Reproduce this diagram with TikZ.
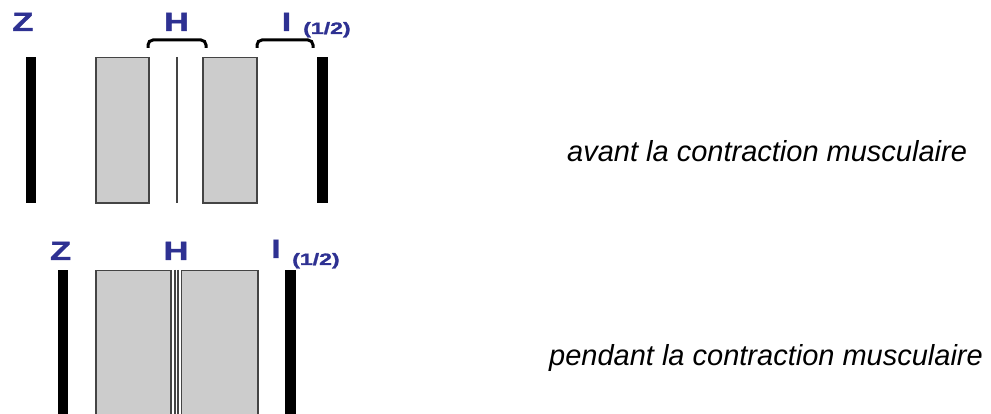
\documentclass[tikz,border=0pt]{standalone}
\usepackage{fontspec}
\setmainfont{Liberation Sans}
\newfontfamily\labfont{Liberation Sans Bold}[FakeBold=1.3]
\definecolor{labblue}{HTML}{2E3192}
\definecolor{filgray}{HTML}{CCCCCC}
\definecolor{edgegray}{HTML}{444444}
\newcommand{\widelab}[2]{\scalebox{#1}[1]{#2}}
\tikzset{
  lab/.style={text=labblue, font=\labfont\fontsize{26.5}{26.5}\selectfont, inner sep=0pt, anchor=base},
  half/.style={text=labblue, font=\labfont\fontsize{16.5}{16.5}\selectfont, inner sep=0pt, anchor=base west},
  zbar/.style={fill=black, draw=none},
  filament/.style={fill=filgray, draw=edgegray, line width=1.5pt},
  hline/.style={draw=edgegray, line width=1.1pt},
  brace/.style={draw=black, line width=3pt, rounded corners=5pt},
  caption/.style={font=\itshape\fontsize{29}{29}\selectfont, inner sep=0pt, anchor=base west}
}
\begin{document}
\begin{tikzpicture}[x=1pt,y=-1pt]
\useasboundingbox (0,0) rectangle (991,414);
% ---- top: before contraction
\node[lab] (z1) at (22.8,31) {\widelab{1.3}{Z}};
\node[lab] (h1) at (176.5,31) {\widelab{1.3}{H}};
\node[lab] (i1) at (286.5,31) {\widelab{1.3}{I}};
\node[half] (q1) at (303,34) {\widelab{1.4}{(1/2)}};
\draw[brace] (148,48) -- (148,40) -- (206,40) -- (206,48);
\draw[brace] (257,48) -- (257,40) -- (313,40) -- (313,48);
\fill[zbar] (26,57) rectangle (36,203);
\fill[zbar] (317,57) rectangle (328,203);
\draw[filament] (96,57.5) rectangle (149,203);
\draw[filament] (203,57.5) rectangle (257,203);
\draw[hline] (177,57) -- (177,203);
\node[caption] (c1) at (567,162) {avant la contraction musculaire};
% ---- bottom: during contraction
\node[lab] (z2) at (60.5,260) {\widelab{1.3}{Z}};
\node[lab] (h2) at (176,260) {\widelab{1.3}{H}};
\node[lab] (i2) at (276,258) {\widelab{1.3}{I}};
\node[half] (q2) at (292,265) {\widelab{1.4}{(1/2)}};
\fill[zbar] (58,270) rectangle (68,420);
\fill[zbar] (285,270) rectangle (296,420);
\draw[filament] (96,270.5) rectangle (171,420);
\draw[filament] (181.5,270.5) rectangle (258,420);
\draw[hline] (175,270) -- (175,420);
\draw[hline] (178,270) -- (178,420);
\node[caption] (c2) at (549,365) {pendant la contraction musculaire};
\end{tikzpicture}
\end{document}
